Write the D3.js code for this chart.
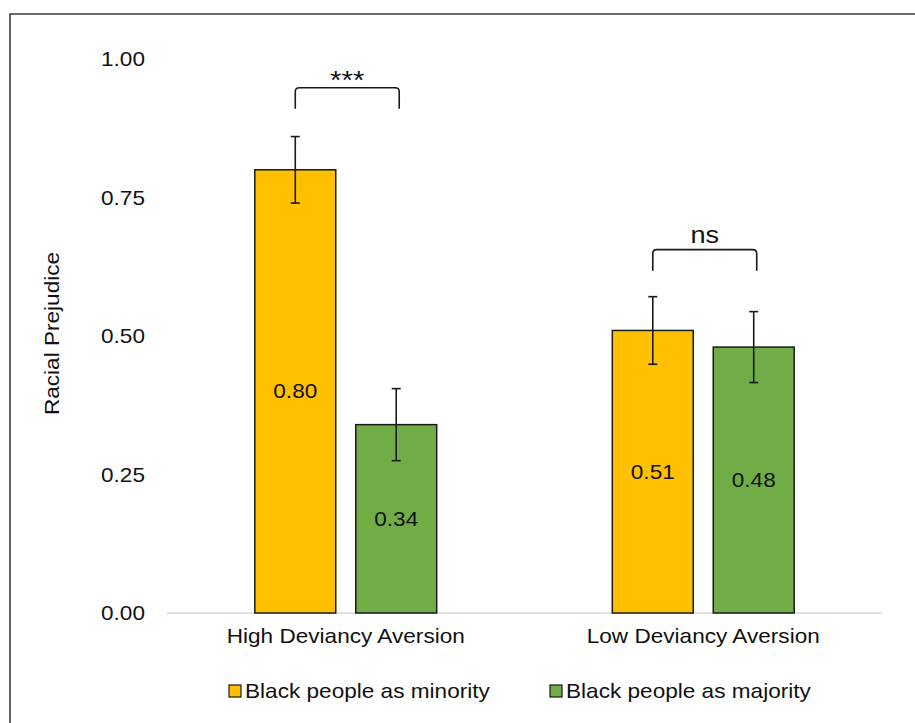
<!DOCTYPE html>
<html>
<head>
<meta charset="utf-8">
<script src="https://cdn.jsdelivr.net/npm/d3@7"></script>
<style>
  html, body { margin: 0; padding: 0; background: #fff; }
  svg { display: block; }
  text { font-family: "Liberation Sans", Arial, Helvetica, sans-serif; fill: #111; }
</style>
</head>
<body>
<svg id="chart" width="915" height="723"></svg>
<script>
// Group labels, series and values
const categories = ["High Deviancy Aversion", "Low Deviancy Aversion"];
const seriesNames = ["Black people as minority", "Black people as majority"];
const minorityValues = [0.80, 0.51];
const majorityValues = [0.34, 0.48];
const minorityErrors = [0.06, 0.061];
const majorityErrors = [0.065, 0.064];
const yTicks = [0, 0.25, 0.5, 0.75, 1.0];
const sigLabels = ["***", "ns"];
const bracketLevels = [0.91, 0.618];
const seriesColors = ["#FFC000", "#70AD47"];

const SX = 1.13; // horizontal stretch of the glyphs
const svg = d3.select("#chart");

const y = d3.scaleLinear().domain([0, 1]).range([613, 59]);
const x0 = d3.scaleBand().domain(categories).range([167, 882]).paddingInner(0).paddingOuter(0);
const x1 = d3.scaleBand().domain(seriesNames).range([0, x0.bandwidth()])
  .paddingInner(0.198).paddingOuter(0.87);

function label(g, x, yy, txt, size, anchor, extra) {
  return g.append("text")
    .attr("transform", `translate(${x},${yy})${extra || ""} scale(${SX},1)`)
    .attr("text-anchor", anchor)
    .attr("dy", "0.35em")
    .style("font-size", size + "px")
    .text(txt);
}

// outer frame
svg.append("path")
  .attr("d", "M10,730V14H920")
  .attr("fill", "none").attr("stroke", "#3a3a3a").attr("stroke-width", 1.6);

// y tick labels
const yAxisG = svg.append("g");
yTicks.forEach(t => label(yAxisG, 145, y(t), d3.format(".2f")(t), 20, "end"));

// y title
label(svg, 52, 333.5, "Racial Prejudice", 20, "middle", " rotate(-90)");

// baseline
svg.append("line")
  .attr("x1", x0.range()[0]).attr("x2", x0.range()[1])
  .attr("y1", y(0)).attr("y2", y(0))
  .attr("stroke", "#d9d9d9").attr("stroke-width", 1.5);

// rows for bars
const rows = [];
categories.forEach((c, i) => {
  rows.push({ cat: c, s: seriesNames[0], v: minorityValues[i], e: minorityErrors[i], color: seriesColors[0] });
  rows.push({ cat: c, s: seriesNames[1], v: majorityValues[i], e: majorityErrors[i], color: seriesColors[1] });
});
const cx = d => x0(d.cat) + x1(d.s) + x1.bandwidth() / 2;

svg.append("g").selectAll("rect").data(rows).join("rect")
  .attr("x", d => x0(d.cat) + x1(d.s))
  .attr("y", d => y(d.v))
  .attr("width", x1.bandwidth())
  .attr("height", d => y(0) - y(d.v))
  .attr("fill", d => d.color)
  .attr("stroke", "#1a1a1a").attr("stroke-width", 1.5);

// error bars
const eg = svg.append("g").attr("stroke", "#1a1a1a").attr("stroke-width", 1.6);
rows.forEach(d => {
  const xc = cx(d);
  eg.append("line").attr("x1", xc).attr("x2", xc).attr("y1", y(d.v + d.e)).attr("y2", y(d.v - d.e));
  [d.v + d.e, d.v - d.e].forEach(v =>
    eg.append("line").attr("x1", xc - 4.5).attr("x2", xc + 4.5).attr("y1", y(v)).attr("y2", y(v)));
});

// value labels
const vg = svg.append("g");
rows.forEach(d => label(vg, cx(d), (y(d.v) + y(0)) / 2, d3.format(".2f")(d.v), 20, "middle"));

// category labels
const cg = svg.append("g");
categories.forEach(c => label(cg, x0(c) + x0.bandwidth() / 2, 636, c, 20, "middle"));

// significance brackets
const bg = svg.append("g");
categories.forEach((c, i) => {
  const xa = x0(c) + x1(seriesNames[0]) + x1.bandwidth() / 2;
  const xb = x0(c) + x1(seriesNames[1]) + x1.bandwidth() / 2 + 3;
  const yb = y(bracketLevels[i]);
  const yt = y(bracketLevels[i] + 0.038);
  const r = 4;
  bg.append("path")
    .attr("d", `M${xa},${yb}V${yt + r}Q${xa},${yt} ${xa + r},${yt}H${xb - r}Q${xb},${yt} ${xb},${yt + r}V${yb}`)
    .attr("fill", "none").attr("stroke", "#1a1a1a").attr("stroke-width", 1.6);
  if (sigLabels[i] === "***") {
    bg.append("text")
      .attr("transform", `translate(${(xa + xb) / 2},${yt + 1}) scale(${SX},1)`)
      .attr("text-anchor", "middle").style("font-size", "26px").text(sigLabels[i]);
  } else {
    bg.append("text")
      .attr("transform", `translate(${(xa + xb) / 2},${yt - 7}) scale(${SX},1)`)
      .attr("text-anchor", "middle").style("font-size", "24px").text(sigLabels[i]);
  }
});

// legend
const legendX = [229, 550];
const lg = svg.append("g");
seriesNames.forEach((s, i) => {
  lg.append("rect").attr("x", legendX[i]).attr("y", 685).attr("width", 12).attr("height", 12)
    .attr("fill", seriesColors[i]).attr("stroke", "#1a1a1a").attr("stroke-width", 1.2);
  label(lg, legendX[i] + 16, 691, s, 20, "start");
});
</script>
</body>
</html>
